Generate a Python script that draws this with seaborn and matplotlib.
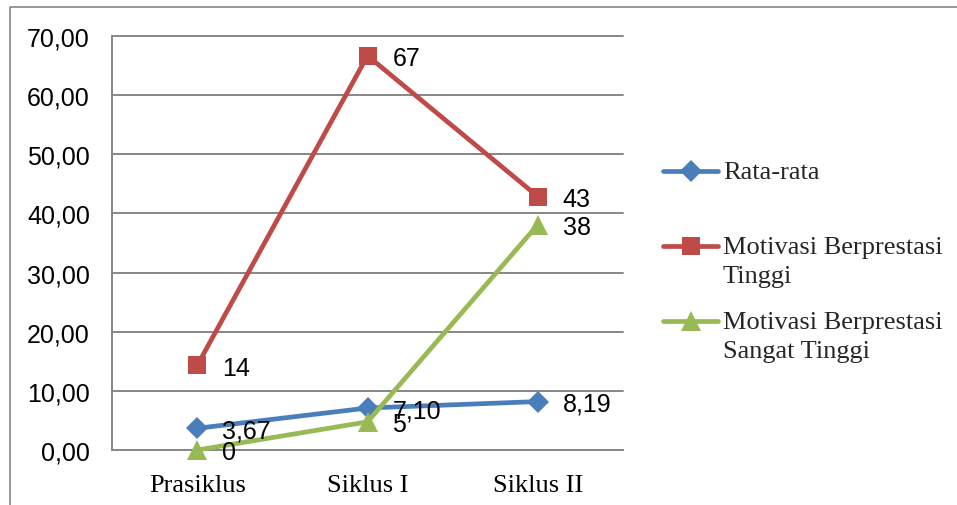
import matplotlib
matplotlib.use("Agg")
import matplotlib.pyplot as plt
from matplotlib.lines import Line2D
import seaborn as sns
import pandas as pd

categories = ["Prasiklus", "Siklus I", "Siklus II"]
series_names = ["Rata-rata", "Motivasi Berprestasi Tinggi", "Motivasi Berprestasi Sangat Tinggi"]
legend_labels = ["Rata-rata", "Motivasi Berprestasi\nTinggi", "Motivasi Berprestasi\nSangat Tinggi"]
rata_rata = [3.67, 7.10, 8.19]
tinggi = [14.29, 66.67, 42.86]
sangat_tinggi = [0.0, 4.76, 38.10]
y_ticks = [0, 10, 20, 30, 40, 50, 60, 70]

colors = {series_names[0]: "#4A7EBB", series_names[1]: "#BE4B48", series_names[2]: "#98B954"}
markers = {series_names[0]: "D", series_names[1]: "s", series_names[2]: "^"}
msizes = {series_names[0]: 11, series_names[1]: 13, series_names[2]: 14}

rows = []
for name, vals in zip(series_names, [rata_rata, tinggi, sangat_tinggi]):
    for c, v in zip(categories, vals):
        rows.append({"Kategori": c, "Nilai": v, "Seri": name})
df = pd.DataFrame(rows)

sns.set_theme(style="white")
plt.rcParams["font.family"] = ["Liberation Sans", "DejaVu Sans"]

W, H = 957, 506
fig = plt.figure(figsize=(W / 100, H / 100), dpi=100)
ax = fig.add_axes([112 / W, 1 - 451 / H, (623 - 112) / W, (451 - 37) / H])

grid_c = "#868686"
for t in y_ticks[1:]:
    ax.axhline(t, color=grid_c, lw=1.4, zorder=0)

for name in series_names:
    sub = df[df["Seri"] == name]
    sns.lineplot(data=sub, x="Kategori", y="Nilai", ax=ax, color=colors[name],
                 marker=markers[name], markersize=msizes[name], markeredgewidth=0,
                 linewidth=3.4, sort=False, legend=False, zorder=3)
for ln in ax.get_lines():
    ln.set_clip_on(False)

ax.set_xlim(-0.5, 2.5)
ax.set_ylim(0, 70)
ax.set_yticks(y_ticks)
ax.set_yticklabels([f"{t:.2f}".replace(".", ",") for t in y_ticks])
ax.set_xticks([0, 1, 2])
ax.set_xticklabels(categories, family=["Liberation Serif"], fontsize=19)
ax.set_xlabel("")
ax.set_ylabel("")
ax.tick_params(axis="x", which="major", length=0, pad=17.5, colors="black")
ax.set_xticks([-0.5, 0.5, 1.5, 2.5], minor=True)
ax.tick_params(axis="x", which="minor", length=6, width=1.4, color=grid_c, direction="out")
ax.tick_params(axis="y", length=6, width=1.4, color=grid_c, direction="out", pad=10,
               labelsize=18, labelcolor="black")
for s in ["top", "right"]:
    ax.spines[s].set_visible(False)
for s in ["left", "bottom"]:
    ax.spines[s].set_color(grid_c)
    ax.spines[s].set_linewidth(1.4)

# data labels
for name, vals in zip(series_names, [rata_rata, tinggi, sangat_tinggi]):
    for i, v in enumerate(vals):
        txt = f"{v:.2f}".replace(".", ",") if name == series_names[0] else f"{v:.0f}"
        ax.annotate(txt, (i, v), xytext=(18, -1.5), textcoords="offset points",
                    ha="left", va="center", fontsize=18, color="black", zorder=5)

# legend (drawn manually to keep handles on the first label line)
leg_y = [172, 247, 322]
for name, lab, y in zip(series_names, legend_labels, leg_y):
    yf = 1 - y / H
    fig.add_artist(Line2D([663 / W, 718 / W], [yf, yf], transform=fig.transFigure,
                          color=colors[name], lw=3.4))
    fig.add_artist(Line2D([690.5 / W], [yf], transform=fig.transFigure,
                          color=colors[name], marker=markers[name],
                          markersize=msizes[name], markeredgewidth=0, lw=0))
    fig.text(723 / W, 1 - (y - 10) / H, lab, ha="left", va="top",
             family=["Liberation Serif"], fontsize=19, linespacing=1.4)

# outer chart border (partially visible)
fig.add_artist(Line2D([9.5 / W, 9.5 / W, 1.0], [0, 1 - 7.5 / H, 1 - 7.5 / H],
                      transform=fig.transFigure, color="#888888", lw=1.2))

fig.savefig("out.png", dpi=100)
